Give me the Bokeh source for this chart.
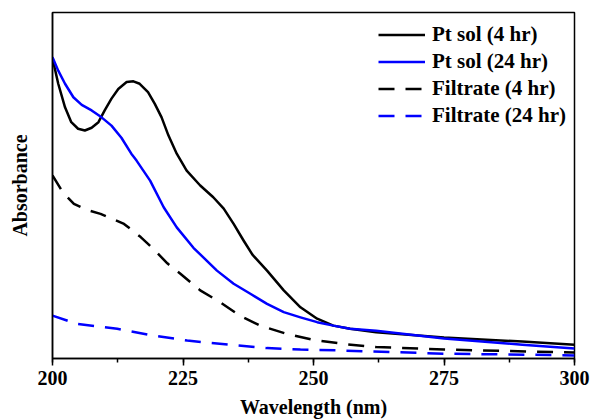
from bokeh.plotting import figure
from bokeh.embed import file_html
from bokeh.resources import INLINE
from bokeh.models import Range1d, SingleIntervalTicker, FixedTicker, Legend, LegendItem

# Wavelength (nm) and absorbance (a.u.)
wl_pt4 = [200, 201.1, 202.4, 203.6, 204.9, 206.2, 207.5, 208.8, 210.0, 211.3, 212.6, 214.2,
          215.5, 216.7, 218.3, 219.6, 220.9, 222.2, 223.8, 225.7, 228.3, 230.8, 232.8, 234.7,
          236.6, 238.3, 241.1, 244.3, 247.5, 250.7, 253.8, 257.0, 262, 275, 290, 300]
abs_pt4 = [0.868, 0.794, 0.726, 0.683, 0.664, 0.659, 0.667, 0.683, 0.717, 0.751, 0.779, 0.799,
           0.801, 0.794, 0.770, 0.736, 0.697, 0.645, 0.592, 0.543, 0.500, 0.466, 0.433, 0.389,
           0.341, 0.300, 0.254, 0.197, 0.148, 0.115, 0.095, 0.086, 0.076, 0.061, 0.049, 0.040]

wl_pt24 = [200, 201.1, 202.4, 204.0, 205.6, 207.5, 209.4, 211.3, 213.2, 215.1, 216.1, 218.7,
           221.3, 223.8, 227.0, 231.5, 234.7, 237.9, 241.1, 244.3, 247.5, 250.7, 253.8, 257,
           262, 275, 290, 300]
abs_pt24 = [0.871, 0.832, 0.794, 0.755, 0.733, 0.717, 0.697, 0.673, 0.638, 0.592, 0.572, 0.514,
            0.437, 0.379, 0.320, 0.254, 0.216, 0.187, 0.158, 0.134, 0.119, 0.105, 0.095, 0.086,
            0.080, 0.058, 0.040, 0.029]

wl_f4 = [200, 202, 204.1, 206.5, 209.2, 213.7, 216.9, 219.3, 222, 224.5, 228.3, 232.1,
         235.9, 239.8, 244.9, 250, 255.8, 262, 275, 300]
abs_f4 = [0.529, 0.480, 0.447, 0.430, 0.418, 0.389, 0.351, 0.317, 0.275, 0.245, 0.197, 0.163,
          0.124, 0.095, 0.071, 0.054, 0.042, 0.033, 0.026, 0.017]

wl_f24 = [200, 204.7, 212.4, 219.4, 225.8, 229.6, 235.3, 241.1, 247.5, 255.7, 275, 300]
abs_f24 = [0.124, 0.100, 0.086, 0.066, 0.052, 0.046, 0.038, 0.030, 0.026, 0.023, 0.014, 0.009]

labels = ["Pt sol (4 hr)", "Pt sol (24 hr)", "Filtrate (4 hr)", "Filtrate (24 hr)"]

FONT = "Liberation Serif"

p = figure(width=590, height=420, output_backend="svg", toolbar_location=None,
           x_range=Range1d(200, 300), y_range=Range1d(0, 1),
           min_border_left=52, min_border_right=16, min_border_top=12, min_border_bottom=62)
p.background_fill_color = "white"
p.border_fill_color = "white"
p.outline_line_color = "black"
p.outline_line_width = 1.5
p.xgrid.visible = False
p.ygrid.visible = False

r1 = p.line(wl_pt4, abs_pt4, line_color="black", line_width=2.5, line_join="round")
r2 = p.line(wl_pt24, abs_pt24, line_color="#0000ff", line_width=2.5, line_join="round")
r3 = p.line(wl_f4, abs_f4, line_color="black", line_width=2.5, line_dash="16 11")
r4 = p.line(wl_f24, abs_f24, line_color="#0000ff", line_width=2.5, line_dash="16 11")

xa = p.xaxis[0]
xa.ticker = SingleIntervalTicker(interval=25, num_minor_ticks=2)
xa.axis_label = "Wavelength (nm)"
xa.axis_label_text_font = FONT
xa.axis_label_text_font_style = "bold"
xa.axis_label_text_font_size = "20px"
xa.axis_label_text_color = "black"
xa.axis_label_standoff = 8
xa.major_label_text_font = FONT
xa.major_label_text_font_style = "bold"
xa.major_label_text_font_size = "20px"
xa.major_label_text_color = "black"
xa.major_label_standoff = 5
xa.major_tick_out = 7
xa.major_tick_in = 0
xa.minor_tick_out = 4
xa.minor_tick_in = 0
xa.axis_line_width = 1.5
xa.major_tick_line_width = 1.5
xa.minor_tick_line_width = 1.5

ya = p.yaxis[0]
ya.ticker = FixedTicker(ticks=[])
ya.axis_label = "Absorbance"
ya.axis_label_text_font = FONT
ya.axis_label_text_font_style = "bold"
ya.axis_label_text_font_size = "20px"
ya.axis_label_text_color = "black"
ya.axis_label_standoff = 22
ya.major_tick_out = 0
ya.major_tick_in = 0
ya.minor_tick_out = 0
ya.minor_tick_in = 0
ya.major_label_text_font_size = "0px"
ya.axis_line_width = 1.5

legend = Legend(items=[LegendItem(label=l, renderers=[r]) for l, r in zip(labels, [r1, r2, r3, r4])],
                location=(326, 230))
legend.border_line_color = None
legend.background_fill_alpha = 0
legend.label_text_font = FONT
legend.label_text_font_style = "bold"
legend.label_text_font_size = "21px"
legend.label_text_color = "black"
legend.glyph_width = 47
legend.glyph_height = 21
legend.label_height = 21
legend.label_standoff = 7
legend.spacing = 2
legend.margin = 0
legend.padding = 4
p.add_layout(legend)

open("out.html", "w").write(file_html(p, INLINE))
